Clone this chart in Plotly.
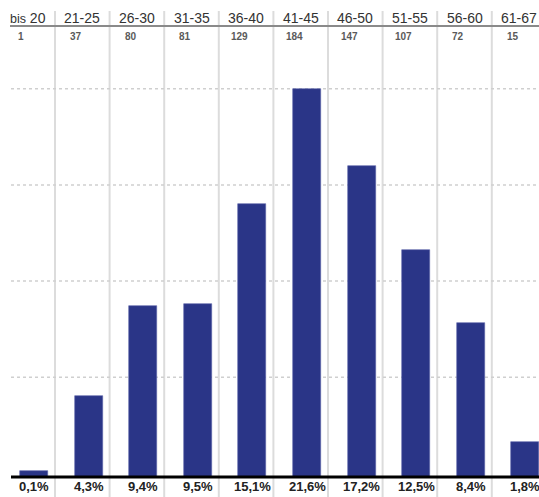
import plotly.graph_objects as go

# Age groups, head counts and shares
age_groups = ["bis 20", "21-25", "26-30", "31-35", "36-40", "41-45", "46-50", "51-55", "56-60", "61-67"]
counts = [1, 37, 80, 81, 129, 184, 147, 107, 72, 15]
shares = ["0,1%", "4,3%", "9,4%", "9,5%", "15,1%", "21,6%", "17,2%", "12,5%", "8,4%", "1,8%"]
grid_levels = [46, 92, 138, 184]

W, H = 539, 497
COL_PX = 54.6           # width of one age column in pixels
ZERO_PX = 473.3         # pixel row of value 0
UNIT_PX = 2.0897        # pixels per person
BASE = -1.8             # bars start on the thick base line

x_idx = list(range(len(age_groups)))
x_range = [-27.7 / COL_PX, (W - 27.7) / COL_PX]
y_range = [(ZERO_PX - H) / UNIT_PX, ZERO_PX / UNIT_PX]

BAR_COLOR = "#2a3587"
FONT = "Liberation Sans, Arial, sans-serif"


def header_text(label):
    # the word "bis" is set a little smaller than the numbers
    if label.startswith("bis "):
        return "<span style='font-size:12.5px'>bis</span> " + label[4:]
    return label


fig = go.Figure()
fig.add_trace(go.Bar(
    x=x_idx,
    y=[c - BASE for c in counts],
    base=BASE,
    width=28 / COL_PX,
    offset=(20 - 27.7) / COL_PX,
    marker=dict(color=BAR_COLOR, line=dict(color="#5a63a8", width=0.6)),
    hoverinfo="skip",
))

shapes = []
# column separators
for k in range(len(age_groups) - 1):
    shapes.append(dict(type="line", xref="x", yref="paper",
                       x0=k + 0.5, x1=k + 0.5, y0=0, y1=1 - 11 / H,
                       line=dict(color="#dcdcdc", width=2), layer="below"))
# dotted horizontal grid
for g in grid_levels:
    shapes.append(dict(type="line", xref="paper", yref="y",
                       x0=11 / W, x1=1, y0=g, y1=g,
                       line=dict(color="#cfcfcf", width=1.5, dash="dot"), layer="below"))
# header rule
shapes.append(dict(type="line", xref="paper", yref="paper",
                   x0=10 / W, x1=1, y0=1 - 26 / H, y1=1 - 26 / H,
                   line=dict(color="#8a8a8a", width=2)))
# base line
shapes.append(dict(type="line", xref="paper", yref="y",
                   x0=11 / W, x1=1, y0=BASE, y1=BASE,
                   line=dict(color="#000000", width=3)))

annotations = []
for k, (grp, n, s) in enumerate(zip(age_groups, counts, shares)):
    annotations.append(dict(x=k, y=1 - 18 / H, xref="x", yref="paper",
                            text=header_text(grp), showarrow=False, xanchor="center", yanchor="middle",
                            font=dict(family=FONT, size=14, color="#333333")))
    annotations.append(dict(x=k - 6.3 / COL_PX, y=1 - 36.5 / H, xref="x", yref="paper",
                            text=f"<b>{n}</b>", showarrow=False, xanchor="center", yanchor="middle",
                            font=dict(family=FONT, size=10, color="#5a5a5a")))
    annotations.append(dict(x=k + 6.3 / COL_PX, y=1 - 486.5 / H, xref="x", yref="paper",
                            text=f"<b>{s}</b>", showarrow=False, xanchor="center", yanchor="middle",
                            font=dict(family=FONT, size=13, color="#222222")))

fig.update_layout(
    width=W, height=H,
    margin=dict(l=0, r=0, t=0, b=0),
    paper_bgcolor="white", plot_bgcolor="white",
    showlegend=False,
    bargap=0,
    xaxis=dict(range=x_range, visible=False, fixedrange=True),
    yaxis=dict(range=y_range, visible=False, fixedrange=True),
    shapes=shapes,
    annotations=annotations,
)

fig.write_html("out.html", config={"displayModeBar": False})
